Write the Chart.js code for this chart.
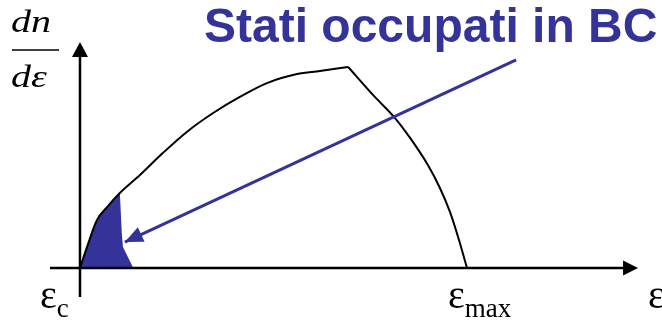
<!DOCTYPE html>
<html>
<head>
<meta charset="utf-8">
<script src="https://cdn.jsdelivr.net/npm/chart.js@4"></script>
<style>
  html, body { margin: 0; padding: 0; background: #fff; }
  #wrap { width: 662px; height: 320px; }
</style>
</head>
<body>
<div id="wrap"><canvas id="dos"></canvas></div>
<script>
// energy in units where eps_c = 0 and eps_max = 10, dn/de normalised to 1 at the peak
const curveE   = [0, 0.18, 0.44, 0.70, 1.03, 1.55, 2.14, 2.76, 3.44, 4.13, 4.83, 5.61, 6.20, 6.93, 7.57, 8.14, 8.53, 8.99, 9.30, 9.56, 9.77, 10.0];
const curveDos = [0, 0.104, 0.239, 0.303, 0.373, 0.463, 0.572, 0.677, 0.771, 0.851, 0.920, 0.965, 0.980, 1.0, 0.861, 0.746, 0.647, 0.512, 0.398, 0.279, 0.154, 0];
const peakIdx = 13;

// occupied states in the conduction band (shaded part)
const fillE   = [0, 0.18, 0.44, 0.70, 1.03, 1.08, 1.11, 1.34, 1.37];
const fillDos = [0, 0.104, 0.239, 0.303, 0.373, 0.174, 0.104, 0.015, 0];

// pointer from the title down to the shaded part
const arrowE   = [11.27, 1.16];
const arrowDos = [1.035, 0.129];

// axis extents (arrow tips)
const axisE   = [-0.775, 14.42];
const axisDos = [-0.144, 1.124];

const title = 'Stati occupati in BC';
const tickE = [0, 10];
const tickLabels = [['ε', 'c'], ['ε', 'max']];
const axisLabelE = 'ε';

const blue = '#333399';

const toPts = (xs, ys) => xs.map((x, i) => ({ x: x, y: ys[i] }));

function head(ctx, x0, y0, x1, y1, len, half) {
  const a = Math.atan2(y1 - y0, x1 - x0);
  const c = Math.cos(a), s = Math.sin(a);
  ctx.beginPath();
  ctx.moveTo(x1, y1);
  ctx.lineTo(x1 - len * c + half * s, y1 - len * s - half * c);
  ctx.lineTo(x1 - len * c - half * s, y1 - len * s + half * c);
  ctx.closePath();
  ctx.fill();
}

const sketch = {
  id: 'sketch',
  afterDatasetsDraw(chart) {
    const ctx = chart.ctx;
    const sx = chart.scales.x, sy = chart.scales.y;
    const x0 = sx.getPixelForValue(0), y0 = sy.getPixelForValue(0);
    ctx.save();

    // axes with arrow heads
    ctx.strokeStyle = '#000';
    ctx.fillStyle = '#000';
    ctx.lineWidth = 2.5;
    const xa = sx.getPixelForValue(axisE[0]), xb = sx.getPixelForValue(axisE[1]);
    const ya = sy.getPixelForValue(axisDos[0]), yb = sy.getPixelForValue(axisDos[1]);
    ctx.beginPath();
    ctx.moveTo(xa, y0); ctx.lineTo(xb - 12, y0);
    ctx.moveTo(x0, ya); ctx.lineTo(x0, yb + 12);
    ctx.stroke();
    head(ctx, xa, y0, xb, y0, 15, 7.5);
    head(ctx, x0, ya, x0, yb, 15, 8);

    // head of the blue pointer
    ctx.fillStyle = blue;
    head(ctx, sx.getPixelForValue(arrowE[0]), sy.getPixelForValue(arrowDos[0]),
         sx.getPixelForValue(arrowE[1]), sy.getPixelForValue(arrowDos[1]), 18, 8);

    // title
    ctx.font = 'bold 48px "Liberation Sans"';
    ctx.textBaseline = 'alphabetic';
    ctx.textAlign = 'left';
    ctx.fillText(title, 204, 42);

    // dn / d eps
    ctx.fillStyle = '#000';
    ctx.font = 'italic 32px "Liberation Serif"';
    ctx.save(); ctx.translate(11, 32); ctx.scale(1.25, 1); ctx.fillText('dn', 0, 0); ctx.restore();
    ctx.save(); ctx.translate(11, 87); ctx.scale(1.25, 1); ctx.fillText('dε', 0, 0); ctx.restore();
    ctx.lineWidth = 1.5;
    ctx.beginPath(); ctx.moveTo(12, 50); ctx.lineTo(59, 50); ctx.stroke();

    // tick labels
    const offs = [-40, -19];
    tickE.forEach((v, i) => {
      const px = sx.getPixelForValue(v) + offs[i];
      ctx.font = '40px "Liberation Serif"';
      ctx.fillText(tickLabels[i][0], px, 308);
      const w = ctx.measureText(tickLabels[i][0]).width;
      ctx.font = '27px "Liberation Serif"';
      ctx.fillText(tickLabels[i][1], px + w, 317);
    });
    ctx.font = '40px "Liberation Serif"';
    ctx.fillText(axisLabelE, 648, 308);

    ctx.restore();
  }
};

new Chart('dos', {
  type: 'scatter',
  data: {
    datasets: [{
      data: toPts(fillE, fillDos),
      showLine: true,
      fill: 'origin',
      backgroundColor: blue,
      borderWidth: 0,
      pointRadius: 0,
      order: 3
    }, {
      // rising side, up to the peak
      data: toPts(curveE.slice(0, peakIdx + 1), curveDos.slice(0, peakIdx + 1)),
      showLine: true,
      borderColor: '#000',
      borderWidth: 2,
      pointRadius: 0,
      cubicInterpolationMode: 'monotone',
      order: 2
    }, {
      // falling side, from the peak
      data: toPts(curveE.slice(peakIdx), curveDos.slice(peakIdx)),
      showLine: true,
      borderColor: '#000',
      borderWidth: 2,
      pointRadius: 0,
      cubicInterpolationMode: 'monotone',
      order: 2
    }, {
      data: toPts(arrowE, arrowDos),
      showLine: true,
      borderColor: blue,
      borderWidth: 3,
      pointRadius: 0,
      order: 1
    }]
  },
  options: {
    animation: false,
    responsive: true,
    maintainAspectRatio: false,
    layout: { padding: 0 },
    plugins: { legend: { display: false }, tooltip: { enabled: false } },
    scales: {
      x: { type: 'linear', display: false, min: -2.067, max: 15.039 },
      y: { type: 'linear', display: false, min: -0.2587, max: 1.3333 }
    }
  },
  plugins: [sketch]
});
</script>
</body>
</html>
